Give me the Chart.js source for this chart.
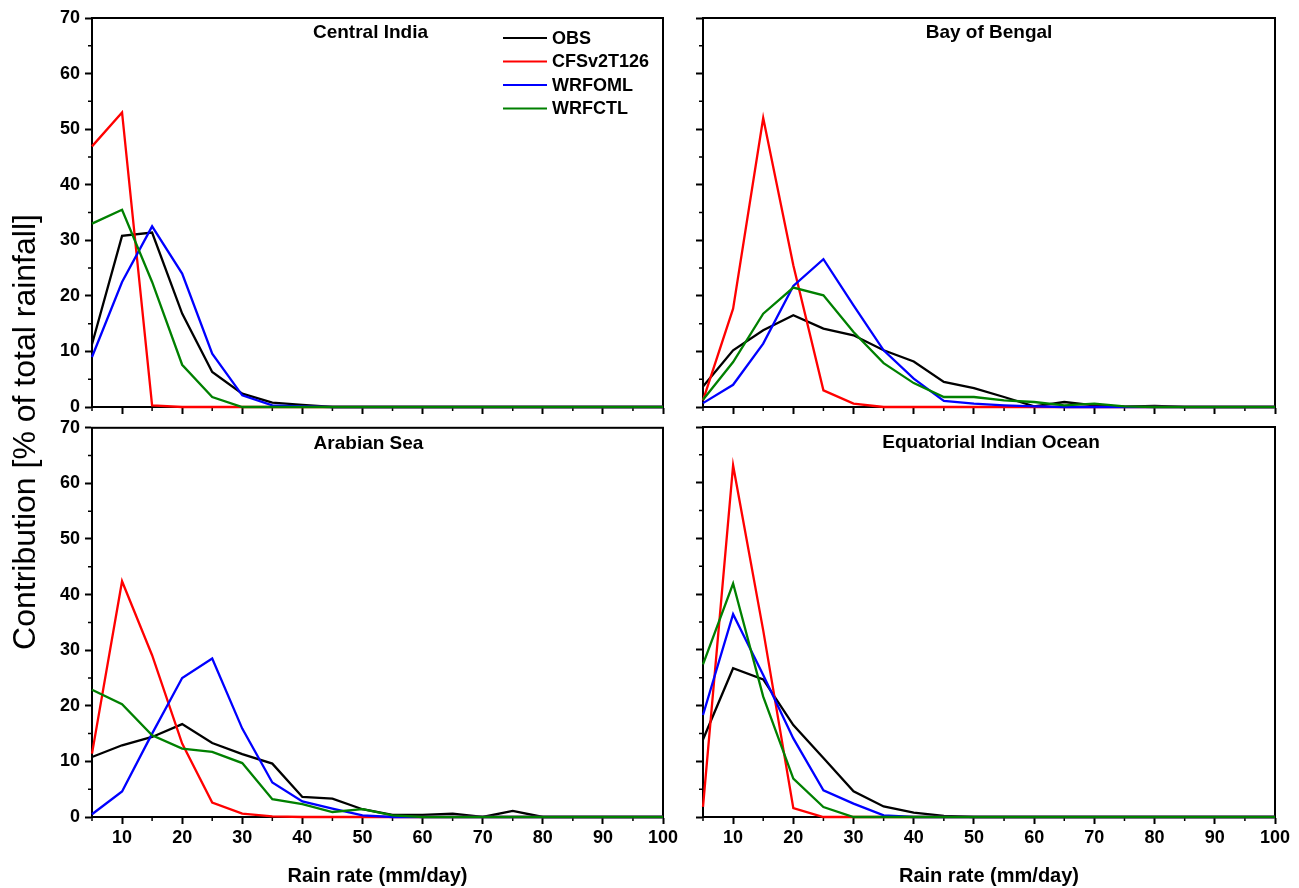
<!DOCTYPE html>
<html>
<head>
<meta charset="utf-8">
<script src="https://cdn.jsdelivr.net/npm/chart.js@4/dist/chart.umd.min.js"></script>
<style>
html,body{margin:0;padding:0;background:#fff;}
#wrap{position:relative;width:1299px;height:888px;overflow:hidden;background:#fff;}
canvas{position:absolute;}
#ytitle{position:absolute;width:600px;height:32px;line-height:32px;left:-276px;top:416px;text-align:center;
  transform:rotate(-90deg);font-family:"Liberation Sans",Arial,sans-serif;font-size:32px;color:#000;white-space:nowrap;}
</style>
</head>
<body>
<div id="wrap">
  <canvas id="c0" width="683" height="427" style="left:0;top:0"></canvas>
  <canvas id="c1" width="616" height="427" style="left:683px;top:0"></canvas>
  <canvas id="c2" width="683" height="476" style="left:0;top:412px"></canvas>
  <canvas id="c3" width="616" height="476" style="left:683px;top:412px"></canvas>
  <div id="ytitle">Contribution [% of total rainfall]</div>
</div>
<script>
// ---------------- DATA ----------------
const rainRate = [5,10,15,20,25,30,35,40,45,50,55,60,65,70,75,80,85,90,95,100];
const seriesNames = ['OBS','CFSv2T126','WRFOML','WRFCTL'];
const regionNames = ['Central India','Bay of Bengal','Arabian Sea','Equatorial Indian Ocean'];

const centralIndiaOBS    = [11.3,30.8,31.4,16.8,6.3,2.4,0.8,0.4,0,0,0,0,0,0,0,0,0,0,0,0];
const centralIndiaCFS    = [46.9,53.0,0.3,0,0,0,0,0,0,0,0,0,0,0,0,0,0,0,0,0];
const centralIndiaWRFOML = [9.0,22.5,32.5,24.0,9.6,2.1,0.3,0.1,0,0,0,0,0,0,0,0,0,0,0,0];
const centralIndiaWRFCTL = [33.0,35.5,22.5,7.6,1.8,0,0,0,0,0,0,0,0,0,0,0,0,0,0,0];

const bayOfBengalOBS    = [3.7,10.2,13.8,16.5,14.1,12.9,10.2,8.2,4.5,3.4,1.8,0.1,0.9,0.3,0.05,0.2,0,0,0,0];
const bayOfBengalCFS    = [1.2,17.7,52.0,25.5,3.0,0.6,0,0,0,0,0,0,0,0,0,0,0,0,0,0];
const bayOfBengalWRFOML = [0.7,4.0,11.4,21.8,26.6,18.3,10.2,5.1,1.1,0.6,0.3,0.1,0,0,0,0,0,0,0,0];
const bayOfBengalWRFCTL = [1.3,8.1,16.8,21.5,20.1,13.5,7.9,4.3,1.8,1.8,1.2,0.9,0.3,0.6,0.1,0,0,0,0,0];

const arabianSeaOBS    = [10.8,12.9,14.4,16.7,13.3,11.3,9.6,3.6,3.3,1.4,0.4,0.4,0.6,0,1.1,0,0,0,0,0];
const arabianSeaCFS    = [11.4,42.4,29.1,13.2,2.6,0.6,0.1,0,0,0,0,0,0,0,0,0,0,0,0,0];
const arabianSeaWRFOML = [0.5,4.6,15.0,25.0,28.5,15.9,6.2,2.8,1.5,0.3,0,0,0,0,0,0,0,0,0,0];
const arabianSeaWRFCTL = [22.9,20.3,14.7,12.3,11.7,9.7,3.2,2.3,0.9,1.4,0.3,0,0,0,0,0,0,0,0,0];

const eqIndianOceanOBS    = [13.9,26.7,24.7,16.5,10.6,4.6,1.9,0.8,0.2,0,0,0,0,0,0,0,0,0,0,0];
const eqIndianOceanCFS    = [1.8,63.1,33.5,1.6,0,0,0,0,0,0,0,0,0,0,0,0,0,0,0,0];
const eqIndianOceanWRFOML = [18.3,36.4,25.5,14.1,4.8,2.4,0.3,0,0,0,0,0,0,0,0,0,0,0,0,0];
const eqIndianOceanWRFCTL = [27.4,41.9,21.6,6.9,1.8,0,0,0,0,0,0,0,0,0,0,0,0,0,0,0];

const xTickLabels = [10,20,30,40,50,60,70,80,90,100];
const yTickLabels = [0,10,20,30,40,50,60,70];
const xMinorTicks = [5,15,25,35,45,55,65,75,85,95];
const yMinorTicks = [5,15,25,35,45,55,65];
const xAxisTitle = 'Rain rate (mm/day)';

// ---------------- STYLE ----------------
const FONT = '"Liberation Sans", Arial, sans-serif';
const seriesColors = ['#000000','#ff0000','#0000ff','#008000'];

const decorPlugin = {
  id: 'panelDecor',
  beforeDatasetsDraw(chart, args, opts) {
    const {ctx, chartArea} = chart;
    const {left, right, top, bottom} = chartArea;
    const xs = chart.scales.x, ys = chart.scales.y;
    ctx.save();
    ctx.strokeStyle = '#000';
    ctx.lineWidth = 2;
    ctx.strokeRect(left, top, right - left, bottom - top);
    ctx.lineWidth = 1.5;
    ctx.beginPath();
    xMinorTicks.forEach(v => { const px = xs.getPixelForValue(v); ctx.moveTo(px, bottom); ctx.lineTo(px, bottom + 4); });
    yMinorTicks.forEach(v => { const py = ys.getPixelForValue(v); ctx.moveTo(left - 4, py); ctx.lineTo(left, py); });
    ctx.stroke();
    ctx.restore();
  },
  afterDatasetsDraw(chart, args, opts) {
    const {ctx, chartArea} = chart;
    const {left, right, top} = chartArea;
    ctx.save();
    ctx.fillStyle = '#000';
    ctx.font = 'bold 19px ' + FONT;
    ctx.textAlign = 'center';
    ctx.textBaseline = 'middle';
    ctx.fillText(opts.title, (left + right) / 2 + (opts.titleDx || 0), top + opts.titleDy);
    if (opts.legend) {
      const lx = left + 411, ly = top + 20, step = 23.5;
      ctx.font = 'bold 18px ' + FONT;
      ctx.textAlign = 'left';
      chart.data.datasets.forEach((ds, i) => {
        const yy = ly + i * step;
        ctx.strokeStyle = ds.borderColor;
        ctx.lineWidth = 2;
        ctx.beginPath(); ctx.moveTo(lx, yy); ctx.lineTo(lx + 44, yy); ctx.stroke();
        ctx.fillText(ds.label, lx + 49, yy + 1);
      });
    }
    ctx.restore();
  }
};

function makePanel(id, title, series, opt) {
  const datasets = series.map((vals, i) => ({
    label: seriesNames[i],
    data: rainRate.map((x, k) => ({x: x, y: vals[k]})),
    borderColor: seriesColors[i],
    backgroundColor: seriesColors[i],
    borderWidth: 2.3,
    pointRadius: 0,
    tension: 0,
    fill: false,
    clip: false,
    order: series.length - 1 - i
  }));
  const gridCfg = {drawOnChartArea: false, drawTicks: true, tickLength: 7, tickWidth: 2, tickColor: '#000', color: '#000'};
  return new Chart(document.getElementById(id), {
    type: 'line',
    data: {datasets},
    plugins: [decorPlugin],
    options: {
      responsive: false,
      animation: false,
      devicePixelRatio: 1,
      layout: {padding: {top: opt.padTop, right: opt.padRight, left: 0, bottom: 0}},
      plugins: {
        legend: {display: false},
        tooltip: {enabled: false},
        panelDecor: {title: title, titleDx: opt.titleDx, titleDy: opt.titleDy, legend: !!opt.legend}
      },
      scales: {
        x: {
          type: 'linear', min: 5, max: 100,
          afterBuildTicks: s => { s.ticks = xTickLabels.map(v => ({value: v})); },
          afterFit: s => { s.height = opt.xHeight; },
          grid: gridCfg,
          border: {display: true, color: '#000', width: 2},
          ticks: {display: opt.xLabels, color: '#000', padding: 3, maxRotation: 0,
                  font: {family: FONT, size: 18, weight: 'bold'}},
          title: {display: opt.xLabels, text: xAxisTitle, color: '#000', padding: {top: 0, bottom: 0},
                  font: {family: FONT, size: 20, weight: 'bold'}}
        },
        y: {
          type: 'linear', min: 0, max: 70,
          afterBuildTicks: s => { s.ticks = yTickLabels.map(v => ({value: v})); },
          afterFit: s => { s.width = opt.yWidth; },
          grid: gridCfg,
          border: {display: true, color: '#000', width: 2},
          ticks: {display: opt.yLabels, color: '#000', padding: 5,
                  font: {family: FONT, size: 18, weight: 'bold'}}
        }
      }
    }
  });
}

makePanel('c0', regionNames[0], [centralIndiaOBS, centralIndiaCFS, centralIndiaWRFOML, centralIndiaWRFCTL],
  {padTop: 18, padRight: 20, yWidth: 92, xHeight: 20, xLabels: false, yLabels: true, titleDx: -7, titleDy: 15, legend: true});
makePanel('c1', regionNames[1], [bayOfBengalOBS, bayOfBengalCFS, bayOfBengalWRFOML, bayOfBengalWRFCTL],
  {padTop: 18, padRight: 24, yWidth: 20, xHeight: 20, xLabels: false, yLabels: false, titleDx: 0, titleDy: 15});
makePanel('c2', regionNames[2], [arabianSeaOBS, arabianSeaCFS, arabianSeaWRFOML, arabianSeaWRFCTL],
  {padTop: 15, padRight: 20, yWidth: 92, xHeight: 71, xLabels: true, yLabels: true, titleDx: -9, titleDy: 16});
makePanel('c3', regionNames[3], [eqIndianOceanOBS, eqIndianOceanCFS, eqIndianOceanWRFOML, eqIndianOceanWRFCTL],
  {padTop: 15, padRight: 24, yWidth: 20, xHeight: 71, xLabels: true, yLabels: false, titleDx: 2, titleDy: 16});
</script>
</body>
</html>
